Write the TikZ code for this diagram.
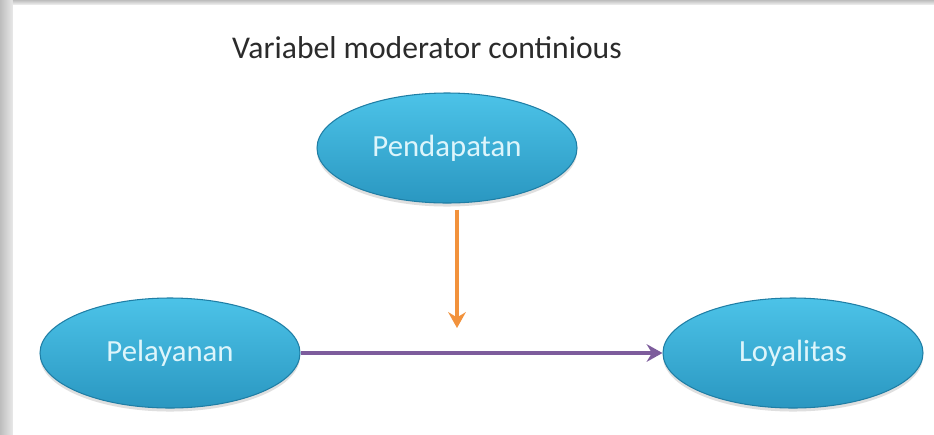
\documentclass[tikz,border=0pt]{standalone}
\usepackage{fontspec}
\setmainfont{Carlito}
\usepackage{tikz}
\usetikzlibrary{arrows.meta,positioning,shadows,calc}
\definecolor{VarTop}{HTML}{4CC3E8}
\definecolor{VarBottom}{HTML}{2A97C1}
\definecolor{VarEdge}{HTML}{1F7EA5}
\definecolor{VarText}{HTML}{DDF5FB}
\definecolor{ModOrange}{HTML}{F2923C}
\definecolor{PathPurple}{HTML}{7D5C9C}
\definecolor{FrameGray}{HTML}{BDBDBD}
\definecolor{FrameLight}{HTML}{E9E9E9}
\definecolor{TitleInk}{HTML}{2B2B2B}
\tikzset{
  vartitle/.style={font=\fontsize{18}{21}\selectfont, text=TitleInk},
  varnode/.style={ellipse, minimum width=5.2cm, minimum height=2.2cm, draw=VarEdge, line width=0.6pt,
    top color=VarTop, bottom color=VarBottom, text=VarText,
    font=\fontsize{17.5}{20}\selectfont,
    drop shadow={opacity=0.25, shadow xshift=0pt, shadow yshift=-2pt}},
  modarrow/.style={-{Stealth[length=9pt, width=10pt, inset=3pt]}, line width=1.8pt, draw=ModOrange},
  patharrow/.style={-{Stealth[length=9pt, width=10pt, inset=3pt]}, line width=1.8pt, draw=PathPurple}
}
\usetikzlibrary{shapes.geometric}
\begin{document}
\begin{tikzpicture}
% page and frame shadow
\useasboundingbox (0,0) rectangle (18.68,-8.68);
\fill[white] (0,0) rectangle (18.68,-8.68);
\shade[left color=FrameGray, right color=FrameLight] (0,0) rectangle (0.26,-8.68);
\shade[top color=FrameGray, bottom color=FrameLight] (0.26,0) rectangle (18.68,-0.08);
\node[vartitle] (title) at (8.54,-0.96) {Variabel moderator continious};
\node[varnode] (pendapatan) at (8.94,-2.96) {Pendapatan};
\node[varnode] (pelayanan) at (3.40,-7.06) {Pelayanan};
\node[varnode] (loyalitas) at (15.86,-7.06) {Loyalitas};
\coordinate (modtip) at (9.14,-6.56);
\draw[modarrow, shorten <=0.12cm] (pendapatan.south -| modtip) -- (modtip);
\draw[patharrow] (pelayanan) -- (loyalitas);
\end{tikzpicture}
\end{document}
